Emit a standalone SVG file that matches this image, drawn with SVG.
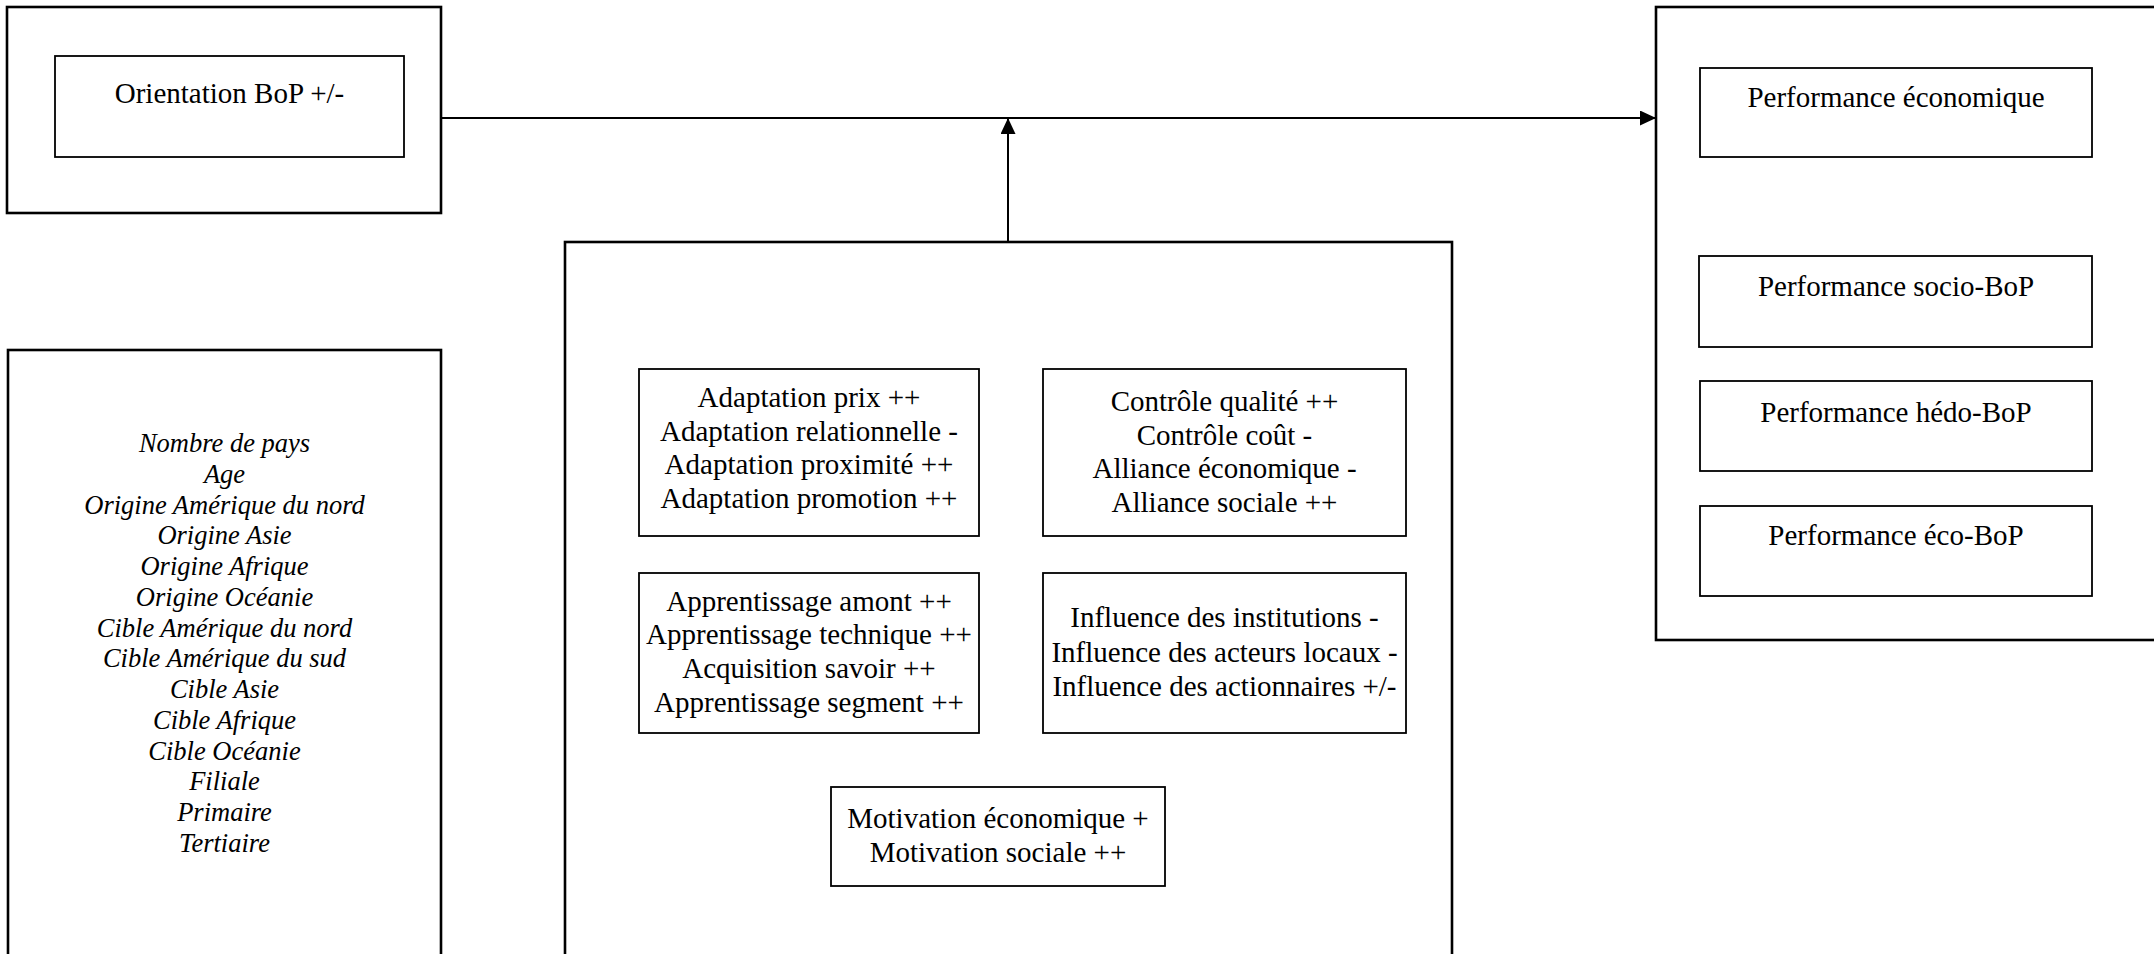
<svg xmlns="http://www.w3.org/2000/svg" width="2154" height="954" viewBox="0 0 2154 954">
  <style>
    .outer { fill: #fff; stroke: #000; stroke-width: 2.6; }
    .inner { fill: #fff; stroke: #000; stroke-width: 1.8; }
    .lbl { font-family: "Liberation Serif", "Times New Roman", serif; font-size: 29px; fill: #000; text-anchor: middle; }
    .ctl { font-family: "Liberation Serif", "Times New Roman", serif; font-size: 26.5px; font-style: italic; fill: #000; text-anchor: middle; }
    .wire { fill: none; stroke: #000; stroke-width: 2; }
  </style>
  <defs>
    <marker id="arrow" markerUnits="userSpaceOnUse" markerWidth="16" markerHeight="15" refX="16" refY="7.5" orient="auto">
      <path d="M0,0 L16,7.5 L0,15 Z" fill="#000"/>
    </marker>
  </defs>
  <rect width="2154" height="954" fill="#fff"/>

  <!-- independent variable -->
  <g id="orientation">
    <rect class="outer" x="7" y="7" width="434" height="206"/>
    <rect class="inner" x="55" y="56" width="349" height="101"/>
    <text class="lbl" x="229.5" y="103">Orientation BoP +/-</text>
  </g>

  <!-- control variables -->
  <g id="controles">
    <rect class="outer" x="8" y="350" width="433" height="620"/>
    <text class="ctl" x="224.5" y="452">Nombre de pays</text>
    <text class="ctl" x="224.5" y="483">Age</text>
    <text class="ctl" x="224.5" y="514">Origine Amérique du nord</text>
    <text class="ctl" x="224.5" y="544">Origine Asie</text>
    <text class="ctl" x="224.5" y="575">Origine Afrique</text>
    <text class="ctl" x="224.5" y="606">Origine Océanie</text>
    <text class="ctl" x="224.5" y="637">Cible Amérique du nord</text>
    <text class="ctl" x="224.5" y="667">Cible Amérique du sud</text>
    <text class="ctl" x="224.5" y="698">Cible Asie</text>
    <text class="ctl" x="224.5" y="729">Cible Afrique</text>
    <text class="ctl" x="224.5" y="760">Cible Océanie</text>
    <text class="ctl" x="224.5" y="790">Filiale</text>
    <text class="ctl" x="224.5" y="821">Primaire</text>
    <text class="ctl" x="224.5" y="852">Tertiaire</text>
  </g>

  <!-- moderators -->
  <g id="moderateurs">
    <rect class="outer" x="565" y="242" width="887" height="730"/>
  </g>
  <g id="adaptation">
    <rect class="inner" x="639" y="369" width="340" height="167"/>
    <text class="lbl" x="809" y="407">Adaptation prix ++</text>
    <text class="lbl" x="809" y="441">Adaptation relationnelle -</text>
    <text class="lbl" x="809" y="474">Adaptation proximité ++</text>
    <text class="lbl" x="809" y="508">Adaptation promotion ++</text>
  </g>
  <g id="controle-alliance">
    <rect class="inner" x="1043" y="369" width="363" height="167"/>
    <text class="lbl" x="1224.5" y="411">Contrôle qualité ++</text>
    <text class="lbl" x="1224.5" y="445">Contrôle coût -</text>
    <text class="lbl" x="1224.5" y="478">Alliance économique -</text>
    <text class="lbl" x="1224.5" y="512">Alliance sociale ++</text>
  </g>
  <g id="apprentissage">
    <rect class="inner" x="639" y="573" width="340" height="160"/>
    <text class="lbl" x="809" y="611">Apprentissage amont ++</text>
    <text class="lbl" x="809" y="644">Apprentissage technique ++</text>
    <text class="lbl" x="809" y="678">Acquisition savoir ++</text>
    <text class="lbl" x="809" y="712">Apprentissage segment ++</text>
  </g>
  <g id="influence">
    <rect class="inner" x="1043" y="573" width="363" height="160"/>
    <text class="lbl" x="1224.5" y="627">Influence des institutions -</text>
    <text class="lbl" x="1224.5" y="662">Influence des acteurs locaux -</text>
    <text class="lbl" x="1224.5" y="696">Influence des actionnaires +/-</text>
  </g>
  <g id="motivation">
    <rect class="inner" x="831" y="787" width="334" height="99"/>
    <text class="lbl" x="998" y="828">Motivation économique +</text>
    <text class="lbl" x="998" y="862">Motivation sociale ++</text>
  </g>

  <!-- dependent variables -->
  <g id="performance">
    <rect class="outer" x="1656" y="7" width="520" height="633"/>
  </g>
  <g id="perf-economique">
    <rect class="inner" x="1700" y="68" width="392" height="89"/>
    <text class="lbl" x="1896" y="107">Performance économique</text>
  </g>
  <g id="perf-socio">
    <rect class="inner" x="1699" y="256" width="393" height="91"/>
    <text class="lbl" x="1896" y="296">Performance socio-BoP</text>
  </g>
  <g id="perf-hedo">
    <rect class="inner" x="1700" y="381" width="392" height="90"/>
    <text class="lbl" x="1896" y="422">Performance hédo-BoP</text>
  </g>
  <g id="perf-eco">
    <rect class="inner" x="1700" y="506" width="392" height="90"/>
    <text class="lbl" x="1896" y="545">Performance éco-BoP</text>
  </g>

  <!-- connectors -->
  <g id="connectors">
    <path class="wire" d="M441,118 H1656" marker-end="url(#arrow)"/>
    <path class="wire" d="M1008,242 V118" marker-end="url(#arrow)"/>
  </g>
</svg>
